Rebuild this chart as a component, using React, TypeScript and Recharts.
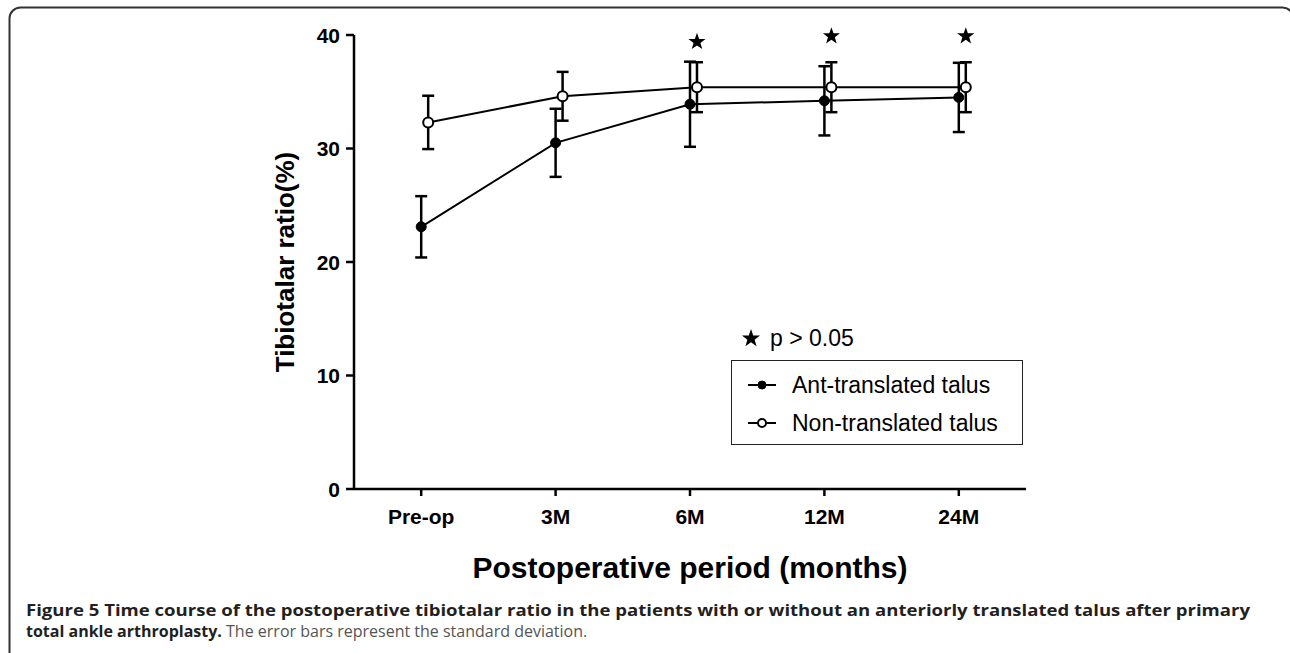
import React from 'react';
import { ComposedChart, Line, Scatter, XAxis, YAxis, ErrorBar, Legend } from 'recharts';

const periods = ['Pre-op', '3M', '6M', '12M', '24M'];
const antMean = [23.1, 30.5, 33.9, 34.2, 34.5];
const antSD = [2.7, 3.0, 3.75, 3.05, 3.05];
const nonMean = [32.3, 34.6, 35.4, 35.4, 35.4];
const nonSD = [2.35, 2.15, 2.2, 2.2, 2.2];
const starY = [null, null, 39.4, 39.9, 39.9];
const yTicks = [0, 10, 20, 30, 40];
const seriesNames = ['Ant-translated talus', 'Non-translated talus'];
const starNote = 'p > 0.05';

// open circles are drawn a little to the right of the filled ones (dodge)
const DODGE = 0.052;
const FONT = '"Liberation Sans", Arial, Helvetica, sans-serif';
const CAPTION_FONT = '"Open Sans", sans-serif';

const antData = periods.map((p, i) => ({ x: i, mean: antMean[i], sd: antSD[i] }));
const nonData = periods.map((p, i) => ({ x: i + DODGE, mean: nonMean[i], sd: nonSD[i] }));
const starData = periods
  .map((p, i) => ({ x: i + DODGE, y: starY[i] }))
  .filter((d) => d.y != null);

function starPath(cx: number, cy: number, R: number) {
  const r = R * 0.4;
  let d = '';
  for (let k = 0; k < 10; k++) {
    const rad = k % 2 === 0 ? R : r;
    const a = -Math.PI / 2 + (k * Math.PI) / 5;
    d += (k === 0 ? 'M' : 'L') + (cx + rad * Math.cos(a)).toFixed(2) + ',' + (cy + rad * Math.sin(a)).toFixed(2);
  }
  return d + 'Z';
}

const StarShape = (props: any) => <path d={starPath(props.cx, props.cy, 9)} fill="#000" />;

const XTick = (props: any) => {
  const { x, y, payload } = props;
  return (
    <text x={x} y={y + 26} textAnchor="middle" fontFamily={FONT} fontWeight="bold" fontSize={21} fill="#000">
      {periods[payload.value]}
    </text>
  );
};

const YTick = (props: any) => {
  const { x, y, payload } = props;
  return (
    <text x={x} y={y + 7.5} textAnchor="end" fontFamily={FONT} fontWeight="bold" fontSize={21} fill="#000">
      {payload.value}
    </text>
  );
};

const renderLegend = () => (
  <div style={{ fontFamily: FONT, color: '#000', fontSize: 23 }}>
    <div style={{ display: 'flex', alignItems: 'center', height: 36 }}>
      <svg width={20} height={20} style={{ marginLeft: 10 }}>
        <path d={starPath(10, 10.5, 9.5)} fill="#000" />
      </svg>
      <span style={{ marginLeft: 9 }}>{starNote}</span>
    </div>
    <div
      style={{
        marginTop: 4,
        width: 292,
        height: 85,
        boxSizing: 'border-box',
        border: '1.5px solid #222',
        paddingTop: 5,
      }}
    >
      {seriesNames.map((name, i) => (
        <div key={name} style={{ display: 'flex', alignItems: 'center', height: 38 }}>
          <svg width={28} height={14} style={{ marginLeft: 16 }}>
            <line x1={0} y1={7} x2={28} y2={7} stroke="#000" strokeWidth={2} />
            <circle cx={14} cy={7} r={4} fill={i === 0 ? '#000' : '#fff'} stroke="#000" strokeWidth={i === 0 ? 1 : 2} />
          </svg>
          <span style={{ marginLeft: 16 }}>{name}</span>
        </div>
      ))}
    </div>
  </div>
);

export default function App() {
  return (
    <div style={{ position: 'absolute', left: 0, top: 0, width: 1290, height: 653, background: '#fff', overflow: 'hidden' }}>
      <svg width={1290} height={653} style={{ position: 'absolute', left: 0, top: 0 }}>
        <rect x={9.5} y={7.5} width={1284} height={656} rx={11} fill="none" stroke="#333" strokeWidth={2} />
        <text
          x={26}
          y={616}
          textLength={1224}
          lengthAdjust="spacingAndGlyphs"
          fontFamily={CAPTION_FONT}
          fontWeight="bold"
          fontSize={16}
          fill="#231f20"
        >
          Figure 5 Time course of the postoperative tibiotalar ratio in the patients with or without an anteriorly translated talus after primary
        </text>
        <text x={26} y={637} fontFamily={CAPTION_FONT} fontSize={16}>
          <tspan fontWeight="bold" fill="#231f20">total ankle arthroplasty.</tspan>
          <tspan fill="#555">{' The error bars represent the standard deviation.'}</tspan>
        </text>
      </svg>
      <div style={{ position: 'absolute', left: 0, top: 0 }}>
        <ComposedChart width={1290} height={653} margin={{ top: 35, right: 264, bottom: 64, left: 264 }}>
          <XAxis
            type="number"
            dataKey="x"
            domain={[-0.5, 4.5]}
            ticks={[0, 1, 2, 3, 4]}
            height={100}
            axisLine={{ stroke: '#000', strokeWidth: 2.5 }}
            tickLine={{ stroke: '#000', strokeWidth: 2.5 }}
            tickSize={7}
            tickMargin={2}
            tick={XTick}
            label={(p: any) => {
              const vb = p.viewBox;
              return (
                <text
                  x={vb.x + vb.width / 2}
                  y={578}
                  textAnchor="middle"
                  fontFamily={FONT}
                  fontWeight="bold"
                  fontSize={30}
                  fill="#000"
                >
                  Postoperative period (months)
                </text>
              );
            }}
          />
          <YAxis
            type="number"
            domain={[0, 40]}
            ticks={yTicks}
            width={90}
            axisLine={{ stroke: '#000', strokeWidth: 2.5 }}
            tickLine={{ stroke: '#000', strokeWidth: 2.5 }}
            tickSize={8}
            tickMargin={6}
            tick={YTick}
            label={(p: any) => {
              const vb = p.viewBox;
              return (
                <text
                  transform={`translate(${vb.x + 30},${vb.y + vb.height / 2}) rotate(-90)`}
                  textAnchor="middle"
                  fontFamily={FONT}
                  fontWeight="bold"
                  fontSize={26}
                  fill="#000"
                >
                  Tibiotalar ratio(%)
                </text>
              );
            }}
          />
          <Legend
            layout="vertical"
            align="center"
            verticalAlign="middle"
            content={renderLegend}
            wrapperStyle={{ left: 731, top: 320, width: 300, height: 130 }}
          />
          <Line
            data={antData}
            dataKey="mean"
            name={seriesNames[0]}
            type="linear"
            stroke="#000"
            strokeWidth={2}
            dot={{ r: 5, fill: '#000', stroke: '#000', strokeWidth: 1 }}
            activeDot={false}
            isAnimationActive={false}
          >
            <ErrorBar dataKey="sd" direction="y" width={6} stroke="#000" strokeWidth={2.5} />
          </Line>
          <Line
            data={nonData}
            dataKey="mean"
            name={seriesNames[1]}
            type="linear"
            stroke="#000"
            strokeWidth={2}
            dot={{ r: 5, fill: '#fff', stroke: '#000', strokeWidth: 2 }}
            activeDot={false}
            isAnimationActive={false}
          >
            <ErrorBar dataKey="sd" direction="y" width={6} stroke="#000" strokeWidth={2.5} />
          </Line>
          <Scatter data={starData} dataKey="y" shape={StarShape} legendType="none" isAnimationActive={false} />
        </ComposedChart>
      </div>
    </div>
  );
}
